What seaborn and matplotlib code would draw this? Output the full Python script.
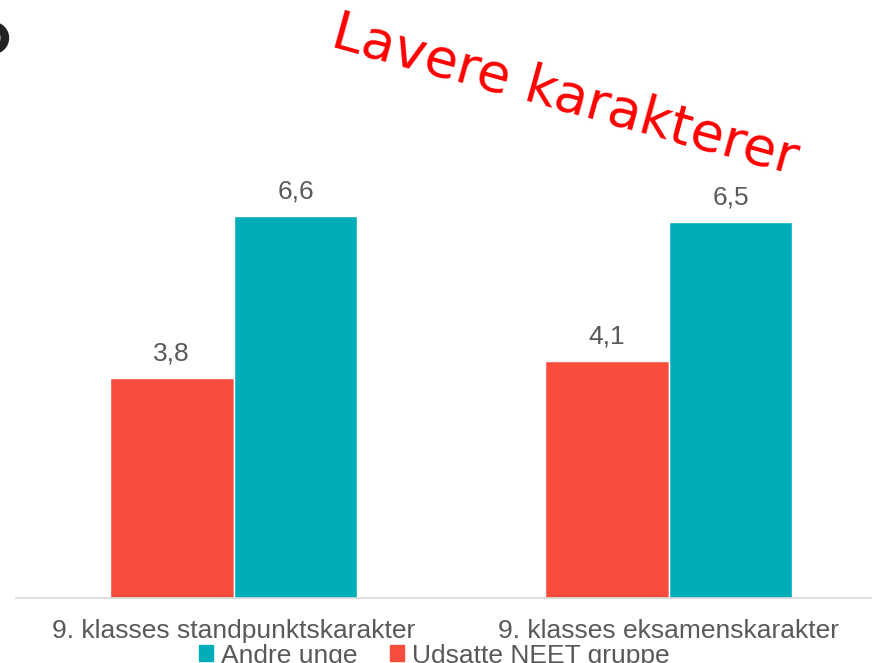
import pandas as pd
import numpy as np
import matplotlib
matplotlib.use("Agg")
import matplotlib.pyplot as plt
import seaborn as sns
from matplotlib.patches import Patch, Circle

# Data
categories = ["9. klasses standpunktskarakter", "9. klasses eksamenskarakter"]
groups = ["Udsatte NEET gruppe", "Andre unge"]
neet_values = [3.8, 4.1]
other_values = [6.6, 6.5]

df = pd.DataFrame({
    "kategori": categories * 2,
    "gruppe": [groups[0]] * 2 + [groups[1]] * 2,
    "karakter": neet_values + other_values,
})

colors = {"Udsatte NEET gruppe": "#F84C3C", "Andre unge": "#00AEBA"}
text_gray = "#595959"

sns.set_style("white")
plt.rcParams["font.family"] = ["Liberation Sans", "DejaVu Sans"]

fig = plt.figure(figsize=(8.72, 6.63), dpi=100)
# axes runs past the right edge, like the cropped original
ax = fig.add_axes([16 / 872, 1 - 598 / 663, 870 / 872, 579 / 663])

sns.barplot(data=df, x="kategori", y="karakter", hue="gruppe",
            hue_order=groups, order=categories, palette=colors,
            width=0.57, saturation=1, legend=False, ax=ax)

ax.set_xlim(-0.5, 1.5)
ax.set_ylim(0, 10)
ax.set_xlabel("")
ax.set_ylabel("")
ax.set_yticks([])
ax.tick_params(axis="x", length=0, pad=15, labelsize=19, labelcolor=text_gray)
for side in ["left", "right", "top"]:
    ax.spines[side].set_visible(False)
ax.spines["bottom"].set_color("#D9D9D9")
ax.spines["bottom"].set_linewidth(1.2)

for cont in ax.containers:
    ax.bar_label(cont, labels=[f"{v:.1f}".replace(".", ",") for v in cont.datavalues],
                 padding=9, fontsize=19, color=text_gray)

# legend at the bottom (cropped in the original)
handles = [Patch(color=colors["Andre unge"], label="Andre unge"),
           Patch(color=colors["Udsatte NEET gruppe"], label="Udsatte NEET gruppe")]
fig.legend(handles=handles, loc="center", bbox_to_anchor=(0.498, 0.011),
           ncol=2, frameon=False, fontsize=19, labelcolor=text_gray,
           handlelength=0.55, handleheight=0.55, handletextpad=0.3, columnspacing=1.2)

# annotation
fig.text(0.39, 0.99, "Lavere karakterer", rotation=-15.5, rotation_mode="anchor",
         ha="left", va="top", color="red", fontsize=39, family="DejaVu Sans")

# partial ring at top-left
fig.patches.append(Circle((-7, 625), 12, transform=None, facecolor="#9a9a9a",
                          edgecolor="#222222", linewidth=6, figure=fig))

fig.savefig("out.png", dpi=100)
